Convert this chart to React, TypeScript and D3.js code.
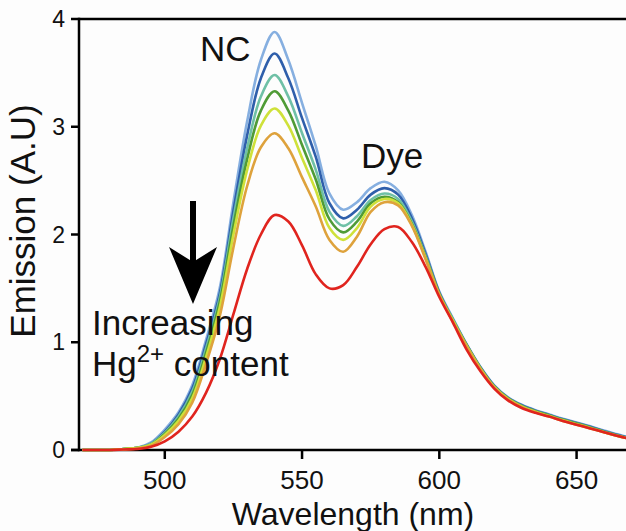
import React from "react";
import * as d3 from "d3";

// Emission spectra: wavelength grid (nm) and one series per Hg2+ level
const wavelengths = [
  470, 475, 480, 485, 490, 495, 500, 505, 510, 515, 520, 525, 530, 535, 540, 545, 550,
  555, 560, 565, 570, 575, 580, 585, 590, 595, 600, 605, 610, 615, 620, 625, 630, 635,
  640, 645, 650, 655, 660, 665, 670,
];

const hg0 = [
  0, 0, 0, 0.01, 0.02, 0.07, 0.19, 0.35, 0.6, 1.02, 1.5, 2.3, 3.05, 3.62, 3.88, 3.62, 3.22,
  2.82, 2.38, 2.23, 2.3, 2.43, 2.49, 2.41, 2.18, 1.84, 1.47, 1.22, 0.98, 0.77, 0.6, 0.49,
  0.42, 0.37, 0.33, 0.29, 0.255, 0.22, 0.18, 0.145, 0.11,
];
const hg1 = [
  0, 0, 0, 0.01, 0.02, 0.06, 0.17, 0.33, 0.57, 0.98, 1.45, 2.22, 2.92, 3.45, 3.68, 3.45, 3.08,
  2.72, 2.29, 2.15, 2.23, 2.37, 2.43, 2.37, 2.15, 1.82, 1.46, 1.21, 0.975, 0.765, 0.595, 0.485,
  0.415, 0.365, 0.325, 0.285, 0.25, 0.215, 0.175, 0.14, 0.105,
];
const hg2 = [
  0, 0, 0, 0.01, 0.02, 0.06, 0.16, 0.31, 0.54, 0.94, 1.41, 2.15, 2.8, 3.28, 3.48, 3.28, 2.94,
  2.6, 2.21, 2.08, 2.17, 2.32, 2.38, 2.33, 2.12, 1.8, 1.45, 1.21, 0.97, 0.76, 0.59, 0.48,
  0.41, 0.36, 0.32, 0.28, 0.245, 0.21, 0.17, 0.135, 0.1,
];
const hg3 = [
  0, 0, 0, 0.01, 0.02, 0.05, 0.15, 0.29, 0.51, 0.9, 1.37, 2.08, 2.7, 3.15, 3.33, 3.15, 2.83,
  2.51, 2.14, 2.02, 2.12, 2.29, 2.35, 2.3, 2.1, 1.79, 1.45, 1.2, 0.97, 0.76, 0.59, 0.48,
  0.41, 0.36, 0.32, 0.28, 0.245, 0.21, 0.17, 0.135, 0.1,
];
const hg4 = [
  0, 0, 0, 0.01, 0.02, 0.05, 0.14, 0.27, 0.48, 0.86, 1.32, 2.0, 2.6, 3.01, 3.17, 3.01, 2.71,
  2.41, 2.06, 1.95, 2.06, 2.26, 2.33, 2.29, 2.09, 1.78, 1.44, 1.2, 0.965, 0.755, 0.585, 0.475,
  0.405, 0.355, 0.315, 0.275, 0.24, 0.205, 0.165, 0.13, 0.1,
];
const hg5 = [
  0, 0, 0, 0.005, 0.015, 0.04, 0.12, 0.24, 0.44, 0.8, 1.24, 1.88, 2.45, 2.81, 2.94, 2.8, 2.53,
  2.26, 1.95, 1.84, 1.98, 2.21, 2.3, 2.27, 2.08, 1.77, 1.44, 1.19, 0.96, 0.75, 0.58, 0.47,
  0.4, 0.35, 0.31, 0.27, 0.235, 0.2, 0.165, 0.13, 0.1,
];
const hg6 = [
  0, 0, 0, 0.005, 0.01, 0.03, 0.08, 0.17, 0.31, 0.53, 0.84, 1.26, 1.68, 2.0, 2.18, 2.12, 1.9,
  1.63, 1.5, 1.53, 1.7, 1.91, 2.05, 2.07, 1.93, 1.7, 1.42, 1.18, 0.93, 0.73, 0.57, 0.46,
  0.39, 0.345, 0.31, 0.27, 0.235, 0.2, 0.165, 0.13, 0.1,
];

const seriesValues = [hg0, hg1, hg2, hg3, hg4, hg5, hg6];
const seriesColors = ["#86afe0", "#2f5fab", "#6fc0a6", "#4f9b36", "#cfe13a", "#dea23c", "#e0241e"];

const xTicks = [500, 550, 600, 650];
const yTicks = [0, 1, 2, 3, 4];

const W = 626;
const H = 531;
const left = 79;
const right = 626;
const top = 19;
const bottom = 450;
const FONT = "'Liberation Sans', Arial, Helvetica, sans-serif";

export default function App() {
  const x = d3.scaleLinear().domain([468.75, 668]).range([left, right]);
  const y = d3.scaleLinear().domain([0, 4]).range([bottom, top]);

  const line = d3
    .line<[number, number]>()
    .x((d) => x(d[0]))
    .y((d) => y(d[1]))
    .curve(d3.curveCatmullRom.alpha(0.5));

  const tipX = 193;
  const arrowTop = 201;
  const arrowTip = 304;

  return (
    <svg
      width={W}
      height={H}
      style={{ position: "fixed", left: 0, top: 0, background: "#fdfdfd" }}
      fontFamily={FONT}
    >
      <defs>
        <clipPath id="plot-clip">
          <rect x={left} y={top - 5} width={right - left} height={bottom - top + 10} />
        </clipPath>
      </defs>

      {/* frame: left spine, top border, baseline */}
      <line x1={left} y1={top} x2={right} y2={top} stroke="#000" strokeWidth={2.5} />
      <line x1={left} y1={top - 1.25} x2={left} y2={bottom + 1.25} stroke="#000" strokeWidth={2.5} />
      <line x1={left - 8} y1={bottom} x2={right} y2={bottom} stroke="#000" strokeWidth={2.5} />

      {/* y ticks */}
      {yTicks.map((t) => (
        <g key={`y${t}`}>
          <line x1={left - 8} x2={left} y1={y(t)} y2={y(t)} stroke="#000" strokeWidth={2.5} />
          <text x={65} y={y(t) + 8} fontSize={23} textAnchor="end" fill="#111">
            {t}
          </text>
        </g>
      ))}

      {/* x ticks */}
      {xTicks.map((t) => (
        <g key={`x${t}`}>
          <line x1={x(t)} x2={x(t)} y1={bottom} y2={bottom + 9} stroke="#000" strokeWidth={2.5} />
          <text x={x(t)} y={489} fontSize={26} textAnchor="middle" fill="#111">
            {t}
          </text>
        </g>
      ))}

      {/* axis titles */}
      <text x={353} y={525} fontSize={32} textAnchor="middle" fill="#111">
        Wavelength (nm)
      </text>
      <text
        transform={`translate(35, 221) rotate(-90)`}
        fontSize={35}
        textAnchor="middle"
        fill="#111"
      >
        Emission (A.U)
      </text>

      {/* spectra */}
      <g clipPath="url(#plot-clip)">
        {seriesValues.map((vals, i) => (
          <path
            key={i}
            d={line(wavelengths.map((w, j) => [w, vals[j]] as [number, number])) || ""}
            fill="none"
            stroke={seriesColors[i]}
            strokeWidth={2.6}
            strokeLinejoin="round"
          />
        ))}
      </g>

      {/* peak labels */}
      <text x={200} y={61} fontSize={35} fill="#111">
        NC
      </text>
      <text x={361} y={168} fontSize={35} fill="#111">
        Dye
      </text>

      {/* downward arrow */}
      <line x1={tipX} x2={tipX} y1={arrowTop} y2={262} stroke="#000" strokeWidth={6} />
      <polygon
        points={`${tipX},${arrowTip} ${tipX + 24},${247} ${tipX},${262} ${tipX - 24},${247}`}
        fill="#000"
      />

      {/* annotation */}
      <text x={92} y={335} fontSize={35} fill="#111">
        Increasing
      </text>
      <text x={92} y={376} fontSize={35} fill="#111">
        Hg
        <tspan fontSize={24} dy={-14}>
          2+
        </tspan>
        <tspan dy={14}> content</tspan>
      </text>
    </svg>
  );
}
